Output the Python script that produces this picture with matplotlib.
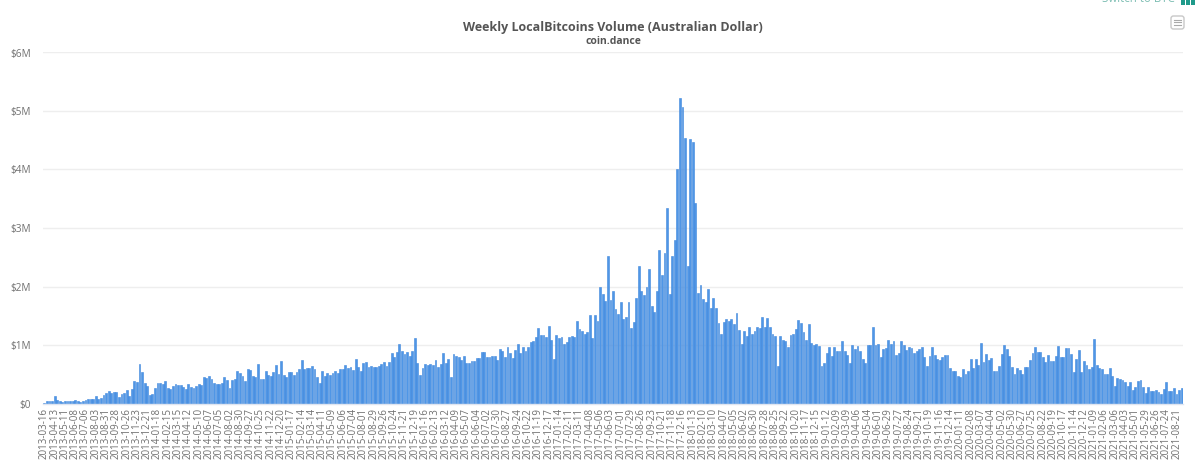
import matplotlib
matplotlib.use('Agg')
import matplotlib.pyplot as plt
import pandas as pd
from matplotlib.patches import FancyBboxPatch, Rectangle

# weekly volume, thousands of AUD
volume = [
    15, 35, 35, 35, 130, 60, 40, 30, 35, 38, 35, 38, 55, 40, 32, 35, 55, 70, 70, 72,
    125, 80, 90, 145, 180, 215, 185, 195, 190, 115, 155, 185, 225, 135, 255, 385, 365, 680, 545, 345,
    300, 150, 155, 265, 355, 345, 335, 385, 265, 240, 300, 330, 315, 315, 290, 250, 330, 285, 270, 305,
    330, 315, 445, 440, 470, 425, 345, 325, 330, 355, 450, 400, 265, 400, 415, 550, 525, 470, 380, 585,
    570, 470, 460, 680, 425, 420, 555, 490,
    470, 540, 655, 500, 725, 485, 445, 530, 535, 485, 530, 585, 740, 585, 610, 605, 640, 585, 445, 345,
    555, 470, 520, 495, 520, 560, 515, 590, 590, 650, 610, 620, 575, 755, 625, 560, 690, 715, 625, 640,
    625, 625, 640, 675, 710, 640, 710, 865, 795, 875, 1020, 890, 840, 880, 815, 890, 1115, 690, 495, 605,
    675, 650, 675, 655, 745, 625, 675, 860, 690, 755, 455, 845, 805, 800, 750, 805, 695, 685, 735, 735,
    785, 785, 880, 875, 790, 790, 810, 805, 750, 925,
    900, 790, 960, 855, 785, 915, 1010, 870, 965, 900, 970, 1045, 1060, 1140, 1285, 1170, 1170, 1130, 1330, 1080,
    755, 1170, 1120, 1140, 1015, 1050, 1130, 1160, 1135, 1410, 1275, 1245, 1190, 1215, 1515, 1120, 1510, 1405, 1985, 1870,
    1750, 2525, 1765, 1925, 1610, 1535, 1735, 1450, 1485, 1730, 1290, 1390, 1795, 2345, 1920, 1855, 1995, 2300, 1675, 1565,
    1920, 2630, 2205, 2565, 3335, 1880, 2520, 2800, 4015, 5230, 5075, 4545, 2345, 4525, 4465, 3420, 1890, 2020, 1785, 1730,
    1965, 1640, 1810, 1625, 1380, 1190, 1390, 1440, 1410,
    1440, 1365, 1540, 1255, 1010, 1245, 1160, 1315, 1180, 1235, 1300, 1285, 1485, 1300, 1460, 1310, 1190, 1150, 640, 1160,
    1090, 1075, 965, 1165, 1190, 1275, 1420, 1370, 1220, 1085, 1360, 1030, 1000, 1010, 985, 645, 690, 860, 970, 805,
    970, 905, 905, 1065, 905, 835, 700, 1000, 935, 975, 895, 755, 700, 1000, 1000, 1310, 1005, 1015, 800, 925,
    950, 1085, 1015, 1075, 830, 870, 1070, 1000, 920, 960, 950, 860, 890, 925, 960, 795, 645, 805, 960, 835,
    755, 740, 790, 830, 835, 605, 560, 560, 465, 460,
    595, 510, 555, 760, 615, 755, 655, 1040, 715, 850, 745, 785, 560, 560, 635, 840, 1005, 925, 810, 620,
    505, 615, 565, 500, 625, 630, 740, 860, 960, 880, 875, 795, 715, 830, 735, 735, 805, 985, 790, 800,
    950, 950, 845, 535, 755, 915, 540, 735, 665, 585, 630, 1100, 655, 600, 585, 505, 510, 605, 470, 305,
    440, 425, 405, 370, 305, 360, 225, 290, 380, 395, 280, 175, 275, 220, 220, 230, 190, 155, 250, 370,
    215, 215, 270, 165, 230, 260,
]

weeks = pd.date_range('2013-03-16', periods=len(volume), freq='7D').strftime('%Y-%m-%d').tolist()
y_ticks = [0, 1000, 2000, 3000, 4000, 5000, 6000]
y_labels = ['$0', '$1M', '$2M', '$3M', '$4M', '$5M', '$6M']

W, H = 1200, 469
plt.rcParams['font.family'] = ['Open Sans', 'DejaVu Sans']

fig = plt.figure(figsize=(W / 100, H / 100), dpi=100)
ax = fig.add_axes([43 / W, 1 - 403.5 / H, 1140 / W, 351 / H])

ax.bar(range(len(volume)), volume, width=0.72, color='#4f96e6', edgecolor='#3f86dc', linewidth=0.4, zorder=2)

ax.set_xlim(-0.5, len(volume) - 0.5)
ax.set_ylim(0, 6000)
ax.set_yticks(y_ticks)
ax.set_yticklabels(y_labels, fontsize=7.2, color='#707070')
ax.set_xticks(range(0, len(volume), 4))
ax.set_xticklabels(weeks[::4], rotation=90, fontsize=7, color='#707070')
ax.tick_params(axis='y', length=0, pad=8.5)
ax.tick_params(axis='x', length=0, pad=3.5)

ax.grid(axis='y', color='#eeeeee', linewidth=1, zorder=0)
ax.set_axisbelow(True)
for side in ['top', 'right', 'left']:
    ax.spines[side].set_visible(False)
ax.spines['bottom'].set_color('#dfe5f0')
ax.spines['bottom'].set_linewidth(1)

fig.text(613 / W, 1 - 27 / H, 'Weekly LocalBitcoins Volume (Australian Dollar)', ha='center', va='center',
         fontsize=9, fontweight='bold', color='#555555')
fig.text(613 / W, 1 - 41 / H, 'coin.dance', ha='center', va='center', fontsize=7.5, fontweight='bold', color='#555555')

# page bits cut off at the top right
fig.text(1175 / W, 1 + 1 / H, 'Switch to BTC', ha='right', va='center', fontsize=8.3, color='#7fbfb4')
for x in [1181, 1186, 1191]:
    fig.add_artist(Rectangle((x / W, 1 - 5 / H), 3.5 / W, 5 / H, transform=fig.transFigure, color='#1f9a8a', lw=0))

# hamburger menu button
fig.add_artist(FancyBboxPatch((1171 / W, 1 - 29 / H), 13 / W, 13 / H, boxstyle='round,pad=0,rounding_size=0.002',
                              transform=fig.transFigure, fc='white', ec='#c8c8c8', lw=1, mutation_aspect=W / H))
for y in [20, 22.5, 25]:
    fig.add_artist(plt.Line2D([1174 / W, 1181 / W], [1 - y / H, 1 - y / H], color='#aaaaaa', lw=0.8))

fig.savefig('out.png', dpi=100)
